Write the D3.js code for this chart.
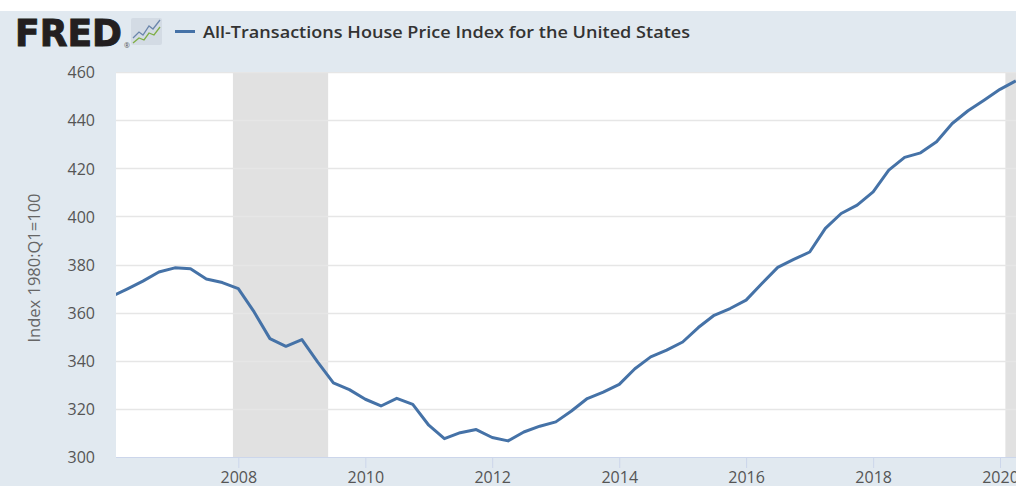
<!DOCTYPE html>
<html>
<head>
<meta charset="utf-8">
<script src="https://cdn.jsdelivr.net/npm/d3@7"></script>
<style>
  html, body { margin: 0; padding: 0; background: #fff; }
  svg { display: block; }
</style>
</head>
<body>
<script>
// quarterly observations, All-Transactions HPI (1980:Q1=100)
var quarters = [
  "2006-01", "2006-04", "2006-07", "2006-10",
  "2007-01", "2007-04", "2007-07", "2007-10",
  "2008-01", "2008-04", "2008-07", "2008-10",
  "2009-01", "2009-04", "2009-07", "2009-10",
  "2010-01", "2010-04", "2010-07", "2010-10",
  "2011-01", "2011-04", "2011-07", "2011-10",
  "2012-01", "2012-04", "2012-07", "2012-10",
  "2013-01", "2013-04", "2013-07", "2013-10",
  "2014-01", "2014-04", "2014-07", "2014-10",
  "2015-01", "2015-04", "2015-07", "2015-10",
  "2016-01", "2016-04", "2016-07", "2016-10",
  "2017-01", "2017-04", "2017-07", "2017-10",
  "2018-01", "2018-04", "2018-07", "2018-10",
  "2019-01", "2019-04", "2019-07", "2019-10",
  "2020-01", "2020-04"
];
var hpi = [
  366.7, 369.8, 373.1, 376.9,
  378.6, 378.2, 374.0, 372.5,
  370.0, 360.3, 349.2, 346.0,
  348.8, 339.5, 330.8, 328.0,
  324.0, 321.2, 324.4, 321.9,
  313.2, 307.6, 310.1, 311.4,
  308.1, 306.7, 310.4, 312.8,
  314.6, 319.1, 324.3, 327.0,
  330.2, 336.7, 341.6, 344.4,
  347.8, 353.8, 358.9, 361.7,
  365.2, 372.1, 378.8, 382.1,
  385.2, 395.0, 401.2, 404.7,
  410.2, 419.2, 424.5, 426.4,
  431.0, 438.6, 443.9, 448.3,
  452.8, 456.3
];
var recessions = [["2007-12", "2009-06"], ["2020-02", "2020-06"]];
var yTicks = [300, 320, 340, 360, 380, 400, 420, 440, 460];
var xTickYears = [2008, 2010, 2012, 2014, 2016, 2018, 2020];
var seriesTitle = "All-Transactions House Price Index for the United States";
var yLabel = "Index 1980:Q1=100";

var W = 1016, H = 486;
var plot = {left: 116, right: 1016, top: 72, bottom: 457};
var parseQ = d3.utcParse("%Y-%m");

var data = quarters.map(function(q, i){ return {date: parseQ(q), value: hpi[i]}; });

var svg = d3.select("body").append("svg")
  .attr("width", W)
  .attr("height", H)
  .style("font-family", "'Open Sans', 'Noto Sans', sans-serif");

svg.append("rect").attr("width", W).attr("height", H).attr("fill", "#fff");
svg.append("rect").attr("y", 11).attr("width", W).attr("height", H - 11).attr("fill", "#e1e9f0");

// x: 2008-01-01 and 2020-01-01 pinned to the reference tick positions
var x = d3.scaleUtc()
  .domain([Date.UTC(2008, 0, 1), Date.UTC(2020, 0, 1)])
  .range([238.3, 1000]);
var y = d3.scaleLinear().domain([300, 460]).range([plot.bottom, plot.top]);

svg.append("clipPath").attr("id", "plotclip")
  .append("rect")
  .attr("x", plot.left).attr("y", plot.top)
  .attr("width", plot.right - plot.left).attr("height", plot.bottom - plot.top);

svg.append("rect")
  .attr("x", plot.left).attr("y", plot.top)
  .attr("width", plot.right - plot.left).attr("height", plot.bottom - plot.top)
  .attr("fill", "#fff");

var inner = svg.append("g").attr("clip-path", "url(#plotclip)");

inner.selectAll("rect.rec")
  .data(recessions)
  .enter().append("rect")
  .attr("class", "rec")
  .attr("x", function(d){ return x(parseQ(d[0])); })
  .attr("width", function(d){ return x(parseQ(d[1])) - x(parseQ(d[0])); })
  .attr("y", plot.top)
  .attr("height", plot.bottom - plot.top)
  .attr("fill", "#e1e1e1");

inner.selectAll("line.grid")
  .data(yTicks.slice(1))
  .enter().append("line")
  .attr("class", "grid")
  .attr("x1", plot.left).attr("x2", plot.right)
  .attr("y1", function(d){ return Math.round(y(d)) + 0.5; })
  .attr("y2", function(d){ return Math.round(y(d)) + 0.5; })
  .attr("stroke", "#e6e6e6")
  .attr("stroke-width", 1.5);

var valueline = d3.line()
  .x(function(d){ return x(d.date); })
  .y(function(d){ return y(d.value); });

inner.append("path")
  .datum(data)
  .attr("d", valueline)
  .attr("fill", "none")
  .attr("stroke", "#4572a7")
  .attr("stroke-width", 3)
  .attr("stroke-linejoin", "round");

// x axis
var xTickDates = xTickYears.map(function(yr){ return new Date(Date.UTC(yr, 0, 1)); });
var xAxis = d3.axisBottom(x)
  .tickValues(xTickDates)
  .tickFormat(d3.utcFormat("%Y"))
  .tickSizeInner(11)
  .tickSizeOuter(0)
  .tickPadding(5);

var gx = svg.append("g")
  .attr("transform", "translate(0," + plot.bottom + ")")
  .call(xAxis);
gx.select(".domain").remove();
gx.append("line")
  .attr("x1", plot.left).attr("x2", plot.right)
  .attr("y1", 0.5).attr("y2", 0.5)
  .attr("stroke", "#ccd6eb");
gx.selectAll(".tick line").attr("stroke", "#ccd6eb");
gx.selectAll(".tick text")
  .attr("dy", null)
  .attr("y", 25.5)
  .attr("fill", "#555")
  .style("font-size", "16px")
  .style("font-family", "'Open Sans', sans-serif");

// y axis labels
var yAxis = d3.axisLeft(y)
  .tickValues(yTicks)
  .tickSize(0)
  .tickPadding(0);
var gy = svg.append("g")
  .attr("transform", "translate(95,0)")
  .call(yAxis);
gy.select(".domain").remove();
gy.selectAll(".tick text")
  .attr("dy", "0.36em")
  .attr("fill", "#555")
  .style("font-size", "16px")
  .style("font-family", "'Open Sans', sans-serif");

svg.append("text")
  .attr("transform", "translate(40," + 268 + ") rotate(-90)")
  .attr("text-anchor", "middle")
  .attr("fill", "#666")
  .style("font-size", "16.5px")
  .text(yLabel);

// header: logo + legend
var logo = svg.append("g");
logo.append("text")
  .attr("x", 15).attr("y", 46)
  .attr("textLength", 107)
  .attr("lengthAdjust", "spacingAndGlyphs")
  .attr("fill", "#231f20")
  .attr("stroke", "#231f20")
  .attr("stroke-width", 1)
  .style("font-family", "'DejaVu Sans', sans-serif")
  .style("font-weight", "bold")
  .style("font-size", "38px")
  .text("FRED");
logo.append("text")
  .attr("x", 124).attr("y", 48)
  .attr("fill", "#555")
  .style("font-size", "7px")
  .text("\u00AE");
logo.append("rect")
  .attr("x", 131).attr("y", 18).attr("width", 31).attr("height", 27)
  .attr("rx", 2)
  .attr("fill", "#d3dbe4");
logo.append("polyline")
  .attr("points", "133,38 139,32 143,35 149,26 153,29 160,20")
  .attr("fill", "none").attr("stroke", "#6b86ab").attr("stroke-width", 1.3);
logo.append("polyline")
  .attr("points", "133,43 139,38 144,40 149,33 154,35 160,27")
  .attr("fill", "none").attr("stroke", "#7fae45").attr("stroke-width", 1.3);

svg.append("line")
  .attr("x1", 175).attr("x2", 195)
  .attr("y1", 31.5).attr("y2", 31.5)
  .attr("stroke", "#4572a7")
  .attr("stroke-width", 3);
svg.append("text")
  .attr("x", 203).attr("y", 38)
  .attr("textLength", 487)
  .attr("lengthAdjust", "spacingAndGlyphs")
  .attr("fill", "#333")
  .style("font-size", "17px")
  .style("font-weight", "600")
  .text(seriesTitle);
</script>
</body>
</html>
